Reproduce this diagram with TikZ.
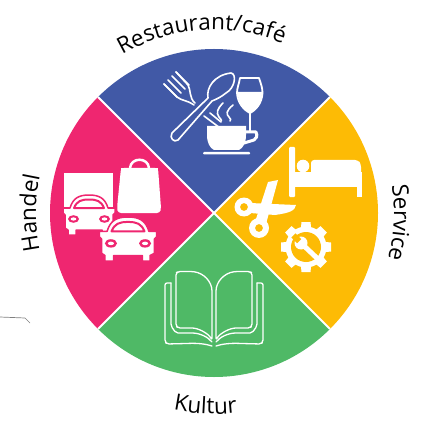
\documentclass[tikz,border=0pt]{standalone}
\usepackage{fontspec}
\setmainfont{Open Sans}
\usetikzlibrary{decorations.text}
\definecolor{cblue}{HTML}{4159A6}
\definecolor{cyellow}{HTML}{FDBB05}
\definecolor{cgreen}{HTML}{4FB966}
\definecolor{cpink}{HTML}{EF2670}
\tikzset{
  wedge/.style={fill=#1,draw=none},
  divider/.style={draw=white,line width=2pt},
  iconline/.style={draw=white,line width=1.6pt,line join=round,line cap=round,fill=none},
  iconfill/.style={fill=white,draw=none},
  arctext/.style={decorate,decoration={text along path,text align=center,text={|\fontsize{22.5}{26}\selectfont|#1}}},
  carpic/.pic={
    \path[fill=white,draw=cpink,line width=1.5pt,line join=round]
      (-26,13) -- (-19,13) .. controls (-16,3) and (-10,0) .. (0,0) .. controls (10,0) and (16,3) .. (19,13)
      -- (26,13) -- (26,18) -- (24,20) -- (24,33) -- (20,35) -- (20,40) -- (13,40) -- (13,35) -- (-13,35)
      -- (-13,40) -- (-21,40) -- (-21,35) -- (-24,33) -- (-24,20) -- (-26,18) -- cycle;
    \path[fill=white,draw=cpink,line width=2pt,line join=round]
      (-15,13) .. controls (-12,6) and (-8,4.5) .. (0,4.5) .. controls (8,4.5) and (12,6) .. (15,13) -- cycle;
    \foreach \s in {-1,1}{
      \fill[cpink] (\s*15.5,24) ellipse [x radius=5.5,y radius=3.8];
      \fill[white] (\s*15.5,24) ellipse [x radius=2.8,y radius=1.6];
    }
  },
  bookside/.pic={
    \draw[iconline,line width=1.3pt,rounded corners=2pt]
      (-2,340) .. controls (-6,333) and (-16,328) .. (-24,328) -- (-36,328) -- (-38,326) -- (-38,273) -- (-36,271.5) -- (-22,271.5)
      .. controls (-10,273) and (-2,282) .. (-2,293) -- cycle;
    \draw[iconline,line width=1.3pt,rounded corners=2pt]
      (-43,283) -- (-43,326) -- (-38,333) -- (-24,333) .. controls (-14,333) and (-6,337) .. (-2,342);
    \draw[iconline,line width=1.3pt,rounded corners=2pt]
      (-43,283) -- (-49,283) -- (-49,342) -- (-47,344) -- (-28,343.5) .. controls (-16,343) and (-8,344) .. (-2,346);
  }
}
\begin{document}
\begin{tikzpicture}[x=1pt,y=-1pt]
\useasboundingbox (0,0) rectangle (428,430);
% wedges and curved labels: y up for the arcs
\begin{scope}[y=1pt,shift={(214pt,-213pt)}]
  \path[wedge=cblue] (0,0) -- (135:164pt) arc[start angle=135,end angle=45,radius=164pt] -- cycle;
  \path[wedge=cyellow] (0,0) -- (45:164pt) arc[start angle=45,end angle=-45,radius=164pt] -- cycle;
  \path[wedge=cgreen] (0,0) -- (-45:164pt) arc[start angle=-45,end angle=-135,radius=164pt] -- cycle;
  \path[wedge=cpink] (0,0) -- (225:164pt) arc[start angle=225,end angle=135,radius=164pt] -- cycle;
  \draw[divider] (135:164pt) -- (-45:164pt);
  \draw[divider] (45:164pt) -- (225:164pt);
  \path[arctext={Restaurant/café}] (124:183pt) arc[start angle=124,end angle=64,radius=183pt];
  \path[arctext={Service}] (13:180pt) arc[start angle=13,end angle=-19,radius=180pt];
  \path[arctext={Handel}] (196:178pt) arc[start angle=196,end angle=164,radius=178pt];
  \path[arctext={Kultur}] (254:201pt) arc[start angle=254,end angle=281,radius=201pt];
\end{scope}
% stray mark
\draw[gray,line width=0.7pt] (0,317) -- (25,318) -- (30,323);
% fork
\foreach \a/\b in {164/84,168/80,172/76,176/72}{
  \draw[iconline,line width=1.7pt] (\a,\b) -- +(13,13);
}
\draw[iconline] (176,72) -- (188,85) .. controls (191,90) and (189,98) .. (195,103);
\draw[iconline] (164,84) -- (177,97) .. controls (182,101) and (187,100) .. (194,105);
\draw[iconline] (204,116) -- (220,128);
\draw[iconline] (210,113) -- (221,122);
% spoon
\draw[iconline] (172,133) -- (208,98) .. controls (206,88) and (214,75) .. (231,73)
  .. controls (237,74) and (235,88) .. (226,93) .. controls (221,97) and (217,99) .. (212,101) -- (178,140)
  .. controls (174,143) and (169,138) .. (172,133) -- cycle;
% wine glass
\path[iconfill] (237.5,92) .. controls (238,103) and (244,110) .. (250,113) .. controls (256,110) and (262,103) .. (262,92) -- cycle;
\draw[iconline,line width=1.8pt] (240,78) -- (259,78) .. controls (261,84) and (262.5,88) .. (262.5,93) .. controls (262,103) and (256,110) .. (250,113)
  .. controls (244,110) and (237.5,103) .. (237,93) .. controls (237,88) and (239,84) .. (240,78) -- cycle;
\draw[iconline] (250,113) -- (250,132);
% cup
\path[iconfill] (207,126) -- (246,126) -- (246,135) .. controls (246,143) and (243,148) .. (239,150) -- (214,150) .. controls (210,148) and (207,143) .. (207,135) -- cycle;
\draw[iconline,line width=3pt] (246,132) -- (256,132) .. controls (258,136) and (256,139) .. (254,140) -- (244,143);
\path[iconfill,rounded corners=1pt] (203,152) rectangle (250,154.5);
\draw[iconline] (223,103) .. controls (217,109) and (216,113) .. (219,117) .. controls (222,120) and (222,122) .. (221,121);
\draw[iconline] (233,105) .. controls (226,111) and (226,114) .. (229,117) .. controls (231,119) and (231,120) .. (230,121);
% truck and bag
\path[iconfill] (64,173) rectangle (113,207);
\path[iconfill,rounded corners=3pt] (121,168) -- (158,168) -- (161,208) -- (160,213) -- (118,213) -- (117,208) -- cycle;
\path[iconfill] (121,168) rectangle (158,172);
\draw[draw=white,line width=2.5pt] (130,168) .. controls (131,157) and (148,157) .. (149,168);
\pic at (89,195) {carpic};
\pic[scale=1.1] at (128,217) {carpic};
% bed
\path[iconfill,rounded corners=1pt] (289,147) rectangle (295,197);
\path[iconfill] (295,172) rectangle (362,187);
\path[iconfill,rounded corners=3pt] (311,160) -- (358,160) -- (361,164) -- (361,176) -- (311,176) -- cycle;
\path[iconfill] (357,180) rectangle (362,197);
\path[iconfill] (303,166) circle[radius=6.3];
% scissors
\path[iconfill] (255,222) -- (268,182) -- (278,180) -- (266,224) -- cycle;
\path[iconfill] (250,203) -- (296,205) .. controls (295,211) and (289,213) .. (275,215) -- (250,213) -- cycle;
\path[iconfill,even odd rule] (244,207) circle[radius=9.5] (244,207) circle[radius=4];
\path[iconfill,even odd rule] (259,228) circle[radius=10] (259,228) circle[radius=4];
% gear
\foreach \t in {0,45,...,315}{
  \path[iconfill,rotate around={\t:(306,247)}] (301.5,222) -- (310.5,222) -- (311.5,232) -- (300.5,232) -- cycle;
}
\path[iconfill] (306,247) circle[radius=20.5];
\path[fill=cyellow] (306,247) circle[radius=15];
\path[iconfill] (301,243) circle[radius=6.5];
\draw[draw=white,line width=5pt] (302,244) -- (319,260);
\path[fill=cyellow,rotate around={45:(297,239)}] (294,234) rectangle (300,242);
% book
\pic at (214,0) {bookside};
\pic[xscale=-1] at (214,0) {bookside};
\end{tikzpicture}
\end{document}
